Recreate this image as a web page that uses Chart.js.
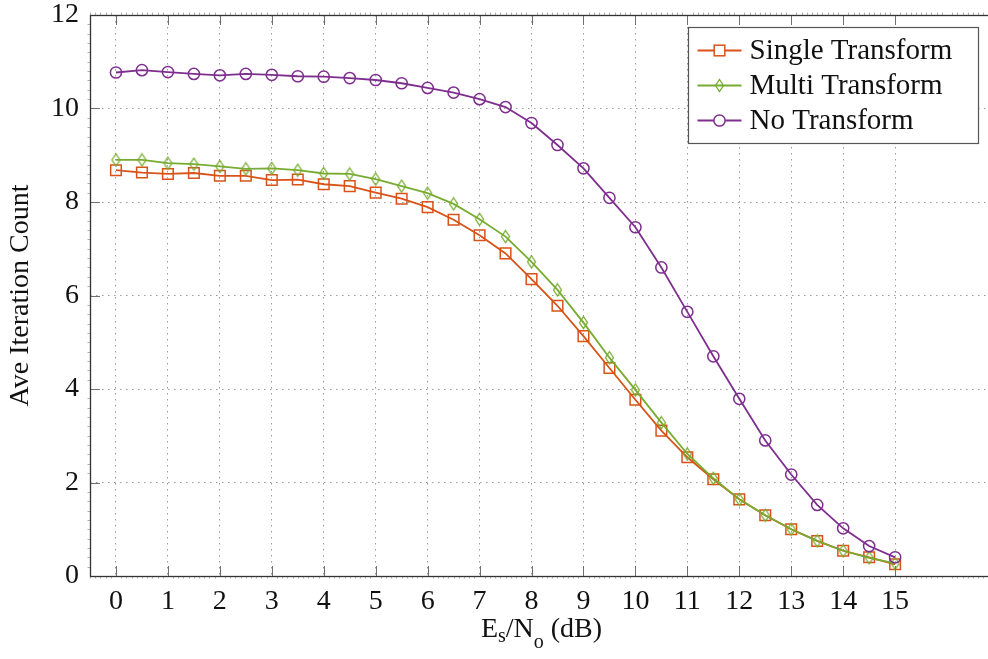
<!DOCTYPE html>
<html>
<head>
<meta charset="utf-8">
<script src="https://cdn.jsdelivr.net/npm/chart.js@4.4.1/dist/chart.umd.min.js"></script>
<style>
  html, body { margin: 0; padding: 0; background: #fff; overflow: hidden; }
  canvas { display: block; }
</style>
</head>
<body>
<canvas id="iterChart" width="1008" height="659"></canvas>
<script>
const snrDb = [0, 0.5, 1, 1.5, 2, 2.5, 3, 3.5, 4, 4.5, 5, 5.5, 6, 6.5, 7, 7.5,
               8, 8.5, 9, 9.5, 10, 10.5, 11, 11.5, 12, 12.5, 13, 13.5, 14, 14.5, 15];

const singleTransform = [8.68, 8.63, 8.60, 8.62, 8.56, 8.56, 8.47, 8.48, 8.38, 8.34, 8.20, 8.07, 7.89, 7.62, 7.29, 6.90,
                         6.35, 5.78, 5.13, 4.45, 3.77, 3.11, 2.54, 2.07, 1.64, 1.30, 1.00, 0.75, 0.54, 0.40, 0.25];
const multiTransform  = [8.90, 8.90, 8.83, 8.81, 8.76, 8.71, 8.72, 8.68, 8.61, 8.60, 8.49, 8.34, 8.19, 7.96, 7.63, 7.26,
                         6.72, 6.12, 5.42, 4.67, 3.98, 3.28, 2.61, 2.09, 1.64, 1.30, 1.00, 0.75, 0.54, 0.39, 0.27];
const noTransform     = [10.77, 10.82, 10.78, 10.74, 10.71, 10.74, 10.72, 10.69, 10.68, 10.65, 10.61, 10.54, 10.44, 10.34, 10.20, 10.03,
                         9.69, 9.22, 8.72, 8.09, 7.46, 6.60, 5.65, 4.70, 3.79, 2.90, 2.17, 1.52, 1.02, 0.64, 0.40];

const xTicks = [0, 1, 2, 3, 4, 5, 6, 7, 8, 9, 10, 11, 12, 13, 14, 15];
const yTicks = [0, 2, 4, 6, 8, 10, 12];

const FONT = "'Liberation Serif', 'Times New Roman', serif";
const ORANGE = '#D95319';
const GREEN = '#77AC30';
const PURPLE = '#7E2F8E';

// thin diamond marker, drawn once and reused as a point image
function diamondMark(color) {
  const c = document.createElement('canvas');
  c.width = 11; c.height = 15;
  const g = c.getContext('2d');
  g.strokeStyle = color;
  g.lineWidth = 1.3;
  g.beginPath();
  g.moveTo(5.5, 1.5); g.lineTo(9.5, 7.5); g.lineTo(5.5, 13.5); g.lineTo(1.5, 7.5);
  g.closePath();
  g.stroke();
  return c;
}

const pts = arr => arr.map((v, i) => ({ x: snrDb[i], y: v }));

function series(label, values, color, style, radius, order) {
  return {
    label,
    data: pts(values),
    borderColor: color,
    backgroundColor: color,
    borderWidth: 1.8,
    pointStyle: style,
    pointRadius: radius,
    pointBorderWidth: 1.5,
    pointBorderColor: color,
    pointBackgroundColor: 'rgba(0,0,0,0)',
    tension: 0,
    order
  };
}

// axis box with inward ticks on all sides
const frame = {
  id: 'frame',
  afterDatasetsDraw(chart) {
    const { ctx, chartArea: a, scales: { x, y } } = chart;
    ctx.save();
    ctx.strokeStyle = '#b0b0b0';
    ctx.lineWidth = 1;
    ctx.beginPath();
    for (let v = -5; v <= 170; v++) {
      if (v % 10 === 0) continue;
      const px = Math.round(x.getPixelForValue(v / 10)) + 0.5;
      ctx.moveTo(px, a.bottom); ctx.lineTo(px, a.bottom + 2.5);
      ctx.moveTo(px, a.top); ctx.lineTo(px, a.top - 2.5);
    }
    for (let v = 0; v <= 60; v++) {
      if (v % 10 === 0) continue;
      const py = Math.round(y.getPixelForValue(v / 5)) + 0.5;
      ctx.moveTo(a.left, py); ctx.lineTo(a.left - 2.5, py);
    }
    ctx.stroke();

    ctx.strokeStyle = '#707070';
    ctx.beginPath();
    xTicks.forEach(v => {
      const px = Math.round(x.getPixelForValue(v)) + 0.5;
      ctx.moveTo(px, a.bottom); ctx.lineTo(px, a.bottom - 10);
      ctx.moveTo(px, a.top); ctx.lineTo(px, a.top + 10);
    });
    yTicks.forEach(v => {
      const py = Math.round(y.getPixelForValue(v)) + 0.5;
      ctx.moveTo(a.left, py); ctx.lineTo(a.left + 10, py);
      ctx.moveTo(a.right, py); ctx.lineTo(a.right - 10, py);
    });
    ctx.stroke();

    ctx.strokeStyle = '#333';
    ctx.lineWidth = 1.3;
    ctx.strokeRect(Math.round(a.left) + 0.5, Math.round(a.top) + 0.5,
                   Math.round(a.right - a.left), Math.round(a.bottom - a.top));
    ctx.restore();
  }
};

// x title with subscripts: Es/No (dB)
const xTitle = {
  id: 'xTitle',
  afterDraw(chart) {
    const { ctx, chartArea: a } = chart;
    const big = '28px ' + FONT, small = '20px ' + FONT;
    const parts = [
      ['E', big, 0], ['s', small, 5], ['/N', big, 0], ['o', small, 11], [' (dB)', big, 0]
    ];
    ctx.save();
    ctx.fillStyle = '#111';
    ctx.textBaseline = 'alphabetic';
    ctx.textAlign = 'left';
    let total = 0;
    parts.forEach(p => { ctx.font = p[1]; total += ctx.measureText(p[0]).width; });
    let cx = (a.left + a.right) / 2 - total / 2 - 3;
    const base = 637;
    parts.forEach(p => {
      ctx.font = p[1];
      ctx.fillText(p[0], cx, base + p[2]);
      cx += ctx.measureText(p[0]).width;
    });
    ctx.restore();
  }
};

// boxed legend with a line segment and marker per series
const legendBox = {
  id: 'legendBox',
  afterDraw(chart) {
    const { ctx, chartArea: a } = chart;
    const bx = Math.round(a.right - 311) + 0.5, by = Math.round(a.top + 12) + 0.5;
    const bw = 290, bh = 116;
    ctx.save();
    ctx.fillStyle = '#fff';
    ctx.fillRect(bx, by, bw, bh);
    ctx.strokeStyle = '#555';
    ctx.lineWidth = 1.2;
    ctx.strokeRect(bx, by, bw, bh);
    chart.data.datasets.forEach((ds, i) => {
      const ry = by + 23 + i * 35;
      ctx.strokeStyle = ds.borderColor;
      ctx.lineWidth = ds.borderWidth;
      ctx.beginPath();
      ctx.moveTo(bx + 9, ry); ctx.lineTo(bx + 53, ry);
      ctx.stroke();
      const mx = bx + 31;
      ctx.lineWidth = ds.pointBorderWidth;
      ctx.fillStyle = '#fff';
      if (ds.pointStyle === 'circle') {
        ctx.beginPath();
        ctx.arc(mx, ry, ds.pointRadius, 0, Math.PI * 2);
        ctx.fill(); ctx.stroke();
      } else if (ds.pointStyle === 'rect') {
        const h = ds.pointRadius * Math.SQRT1_2;
        ctx.fillRect(mx - h, ry - h, 2 * h, 2 * h);
        ctx.strokeRect(mx - h, ry - h, 2 * h, 2 * h);
      } else {
        const img = ds.pointStyle;
        ctx.drawImage(img, mx - img.width / 2, ry - img.height / 2);
      }
      ctx.fillStyle = '#111';
      ctx.font = '29px ' + FONT;
      ctx.textBaseline = 'middle';
      ctx.fillText(ds.label, bx + 61, ry + 1);
    });
    ctx.restore();
  }
};

new Chart(document.getElementById('iterChart'), {
  type: 'line',
  data: {
    datasets: [
      series('Single Transform', singleTransform, ORANGE, 'rect', 7.5, 3),
      series('Multi Transform', multiTransform, GREEN, diamondMark(GREEN), 6, 2),
      series('No Transform', noTransform, PURPLE, 'circle', 5.6, 1)
    ]
  },
  options: {
    responsive: false,
    animation: false,
    devicePixelRatio: 1,
    layout: { padding: { top: 15, left: 0, right: 0, bottom: 0 } },
    plugins: {
      legend: { display: false },
      tooltip: { enabled: false }
    },
    scales: {
      x: {
        type: 'linear',
        min: -0.5,
        max: 17,
        afterBuildTicks: s => { s.ticks = xTicks.map(v => ({ value: v })); },
        afterFit: s => { s.height = 83; s.paddingLeft = 0; s.paddingRight = 0; },
        grid: { color: '#9a9a9a', lineWidth: 1, drawTicks: false },
        border: { display: false, dash: [1.5, 4.5] },
        ticks: {
          color: '#111',
          font: { family: FONT, size: 28, lineHeight: 1 },
          padding: 12,
          maxRotation: 0,
          autoSkip: false
        }
      },
      y: {
        min: 0,
        max: 12,
        afterBuildTicks: s => { s.ticks = yTicks.map(v => ({ value: v })); },
        afterFit: s => { s.width = 90; s.paddingTop = 0; s.paddingBottom = 0; },
        grid: { color: '#9a9a9a', lineWidth: 1, drawTicks: false },
        border: { display: false, dash: [1.5, 4.5] },
        ticks: {
          color: '#111',
          font: { family: FONT, size: 28, lineHeight: 1 },
          padding: 11
        },
        title: {
          display: true,
          text: 'Ave Iteration Count',
          color: '#111',
          font: { family: FONT, size: 28 },
          padding: { top: 4, bottom: 0 }
        }
      }
    }
  },
  plugins: [frame, xTitle, legendBox]
});
</script>
</body>
</html>
